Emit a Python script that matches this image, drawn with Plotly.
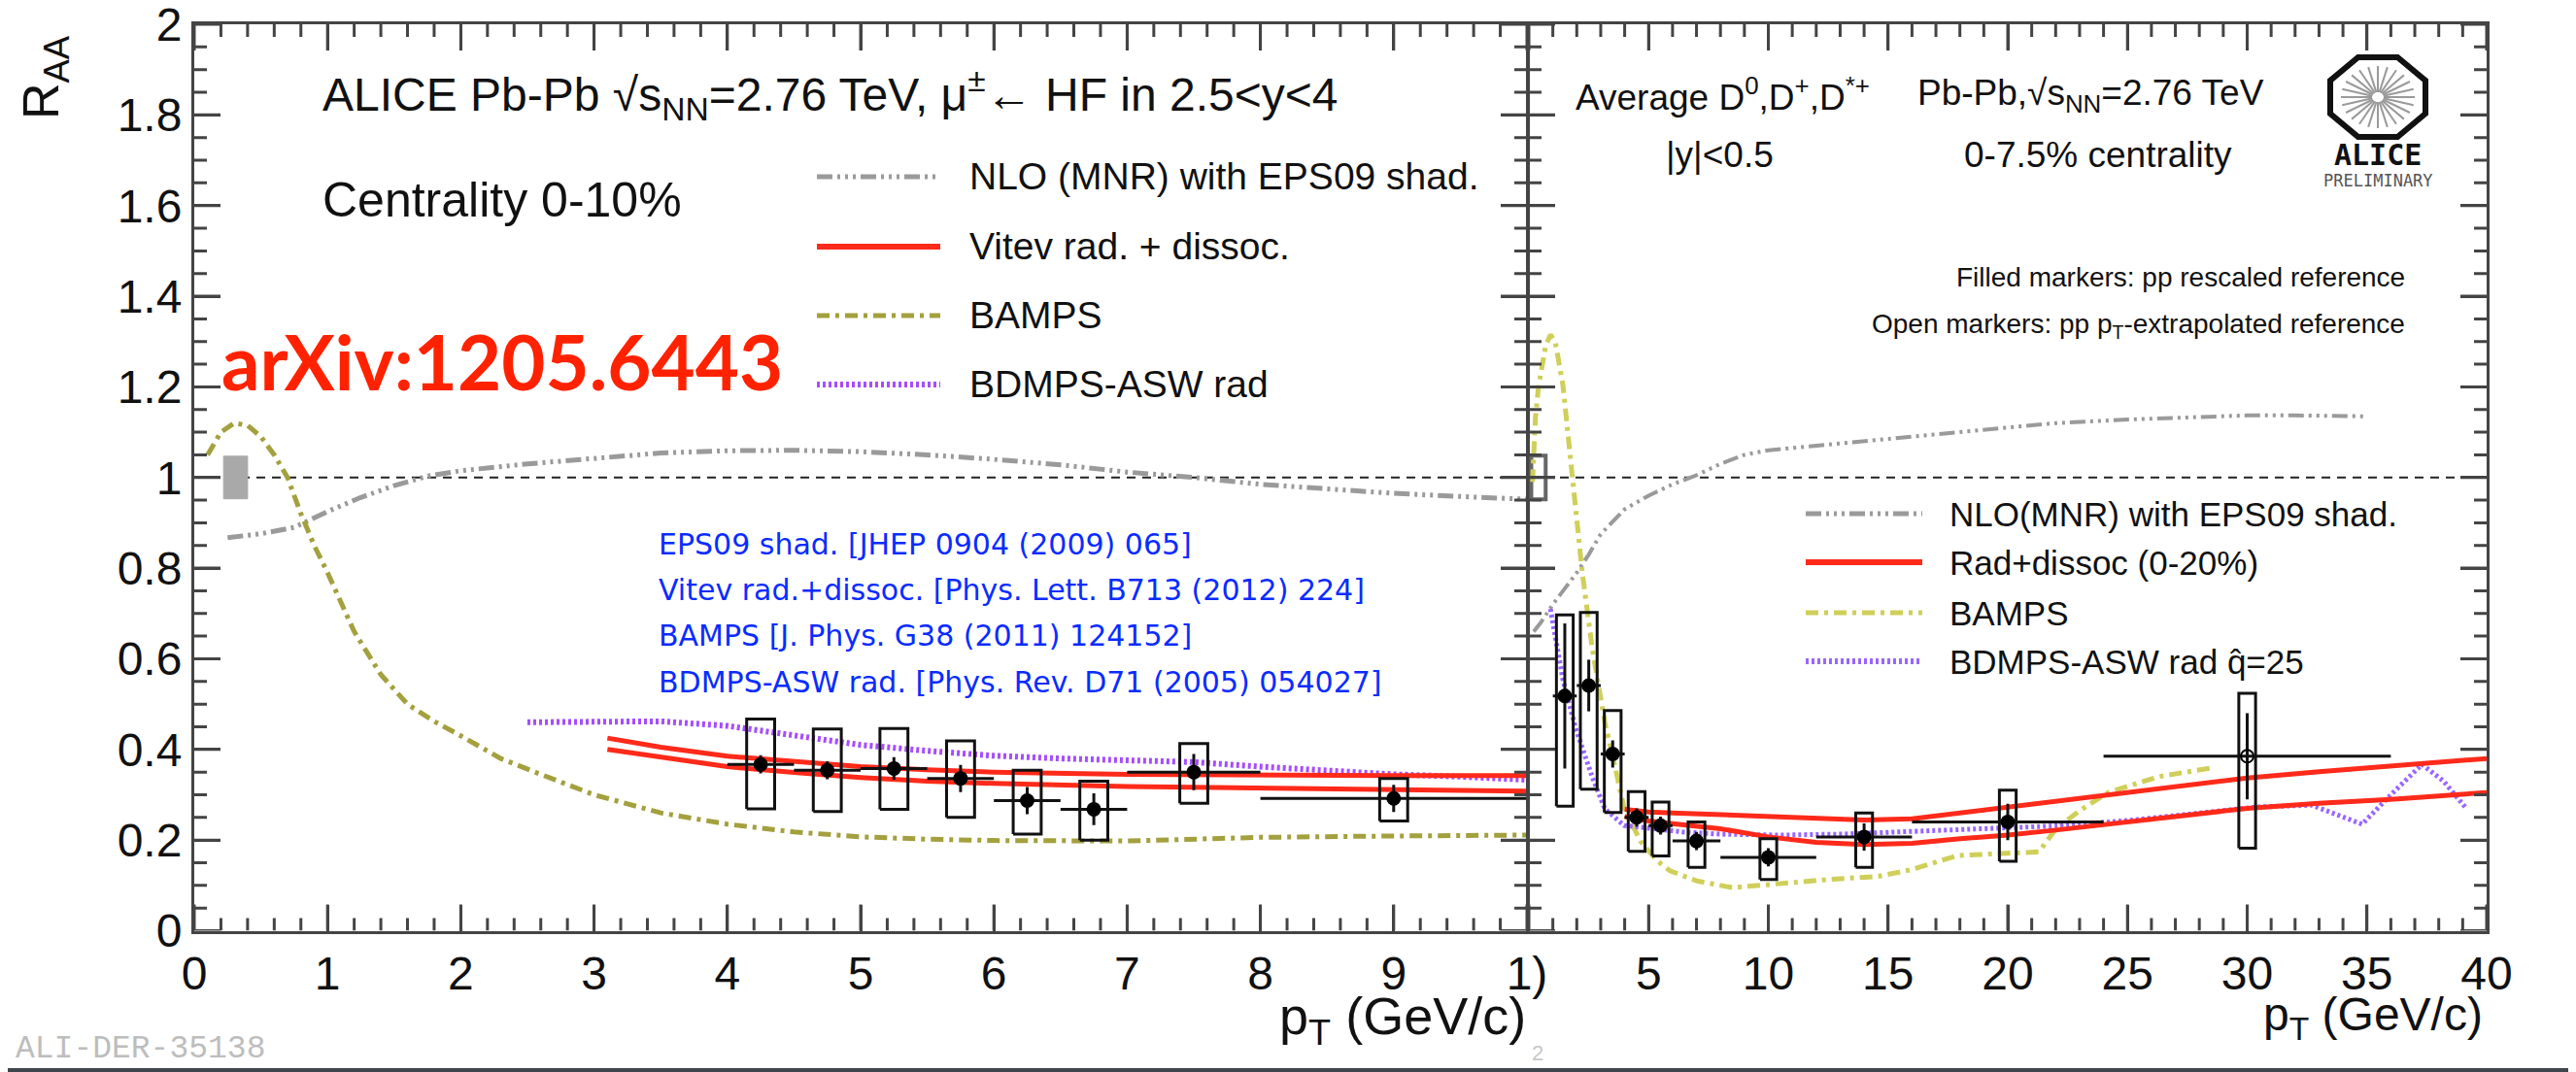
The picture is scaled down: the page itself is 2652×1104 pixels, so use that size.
import plotly.graph_objects as go
import math

# page is 2652x1104; the browser body adds an 8px margin, so the figure is 8px smaller
PAGE_W, PAGE_H = 2652, 1104
OFF = 8
W, H = PAGE_W - OFF, PAGE_H - OFF

# ---------------- Left panel: muons from HF, 2.5<y<4, 0-10% ----------------
mu_pt = [4.25, 4.75, 5.25, 5.75, 6.25, 6.75, 7.5, 9.0]
mu_dx = [0.25, 0.25, 0.25, 0.25, 0.25, 0.25, 0.5, 1.0]
mu_raa = [0.367, 0.354, 0.358, 0.336, 0.287, 0.268, 0.350, 0.292]
mu_stat = [0.02, 0.02, 0.025, 0.03, 0.03, 0.035, 0.04, 0.03]
mu_sys_lo = [0.269, 0.263, 0.268, 0.250, 0.213, 0.200, 0.281, 0.242]
mu_sys_hi = [0.467, 0.445, 0.446, 0.419, 0.354, 0.330, 0.413, 0.336]
mu_norm_pt = [0.22, 0.40]
mu_norm_band = [0.953, 1.047]

nlo_mu_pt = [0.25, 0.5, 0.75, 1.0, 1.25, 1.5, 1.75, 2.0, 2.5, 3.0, 3.5, 4.0, 4.5, 5.0,
             5.5, 6.0, 6.5, 7.0, 7.5, 8.0, 8.5, 9.0, 9.5, 10.0]
nlo_mu = [0.867, 0.876, 0.89, 0.925, 0.956, 0.982, 1.003, 1.015, 1.03, 1.043, 1.054, 1.059,
          1.06, 1.057, 1.05, 1.04, 1.028, 1.012, 1.0, 0.985, 0.975, 0.965, 0.958, 0.952]

bamps_mu_pt = [0.1, 0.2, 0.3, 0.4, 0.5, 0.6, 0.7, 0.8, 0.9, 1.0, 1.2, 1.4, 1.6, 1.8, 2.0,
               2.3, 2.6, 3.0, 3.5, 4.0, 4.5, 5.0, 5.5, 6.0, 7.0, 8.0, 9.0, 10.0]
bamps_mu = [1.05, 1.1, 1.12, 1.115, 1.09, 1.05, 1.0, 0.92, 0.85, 0.79, 0.66, 0.565, 0.50,
            0.462, 0.43, 0.38, 0.345, 0.30, 0.26, 0.235, 0.218, 0.207, 0.202, 0.199, 0.198,
            0.206, 0.209, 0.211]

bdmps_mu_pt = [2.5, 3.0, 3.5, 4.0, 4.5, 5.0, 5.5, 6.0, 6.5, 7.0, 7.5, 8.0, 8.5, 9.0, 9.5, 10.0]
bdmps_mu = [0.46, 0.462, 0.462, 0.452, 0.432, 0.41, 0.397, 0.386, 0.38, 0.376, 0.372, 0.362,
            0.352, 0.345, 0.34, 0.333]

vitev_mu_pt = [3.1, 3.5, 4.0, 4.5, 5.0, 5.5, 6.0, 7.0, 8.0, 9.0, 10.0]
vitev_mu_hi = [0.425, 0.405, 0.385, 0.373, 0.362, 0.355, 0.35, 0.345, 0.343, 0.342, 0.342]
vitev_mu_lo = [0.40, 0.382, 0.362, 0.349, 0.338, 0.33, 0.325, 0.318, 0.314, 0.311, 0.308]

# ---------------- Right panel: average D mesons, |y|<0.5, 0-7.5% ----------------
d_pt = [1.5, 2.5, 3.5, 4.5, 5.5, 7.0, 10.0, 14.0, 20.0]
d_dx = [0.5, 0.5, 0.5, 0.5, 0.5, 1.0, 2.0, 2.0, 4.0]
d_raa = [0.518, 0.541, 0.39, 0.25, 0.232, 0.198, 0.162, 0.207, 0.24]
d_stat = [0.16, 0.057, 0.03, 0.02, 0.02, 0.02, 0.02, 0.03, 0.04]
d_sys_lo = [0.275, 0.312, 0.261, 0.175, 0.165, 0.14, 0.113, 0.14, 0.153]
d_sys_hi = [0.697, 0.702, 0.486, 0.307, 0.284, 0.24, 0.203, 0.26, 0.31]

dopen_pt = [30.0]
dopen_dx = [6.0]
dopen_raa = [0.385]
dopen_stat = [0.095]
dopen_sys_lo = [0.182]
dopen_sys_hi = [0.524]
d_norm_pt = [0.1, 0.7]
d_norm_band = [0.952, 1.048]

nlo_d_pt = [0.2, 0.5, 1.0, 1.5, 2.0, 2.5, 3.0, 4.0, 5.0, 6.0, 7.0, 8.0, 9.0, 10.0, 12.0,
            14.0, 16.0, 18.0, 20.0, 22.0, 25.0, 28.0, 30.0, 32.0, 35.0]
nlo_d = [0.66, 0.68, 0.72, 0.755, 0.79, 0.83, 0.875, 0.93, 0.96, 0.985, 1.005, 1.03, 1.05,
         1.06, 1.07, 1.08, 1.09, 1.10, 1.11, 1.12, 1.128, 1.134, 1.137, 1.137, 1.135]

bamps_d_pt = [0.15, 0.27, 0.4, 0.54, 0.7, 0.9, 1.1, 1.42, 1.83, 2.23, 2.64, 2.92, 3.17, 3.57,
              3.98, 4.67, 5.36, 5.9, 7.0, 8.5, 10.0, 11.1, 12.5, 14.6, 16.0, 17.9, 20.0, 21.3,
              22.0, 23.0, 24.2, 26.3, 28.6]
bamps_d = [0.99, 1.13, 1.2, 1.25, 1.29, 1.315, 1.30, 1.204, 1.0, 0.79, 0.625, 0.532, 0.46,
           0.368, 0.269, 0.197, 0.154, 0.132, 0.11, 0.095, 0.102, 0.108, 0.113, 0.12, 0.135,
           0.166, 0.172, 0.174, 0.224, 0.265, 0.305, 0.34, 0.36]

bdmps_d_pt = [0.9, 1.42, 1.95, 2.64, 3.17, 3.98, 5.08, 6.4, 8.0, 10.5, 13.0, 16.2, 19.0,
              21.9, 25.0, 27.5, 30.4, 32.7, 33.8, 34.8, 36.0, 37.3, 38.2, 39.1]
bdmps_d = [0.71, 0.554, 0.447, 0.34, 0.269, 0.232, 0.226, 0.218, 0.213, 0.211, 0.213, 0.22,
           0.225, 0.231, 0.243, 0.256, 0.273, 0.277, 0.255, 0.235, 0.3, 0.367, 0.33, 0.273]

rad_d_pt = [4.0, 5.0, 6.0, 7.0, 8.0, 10.0, 12.0, 14.0, 16.0, 18.0, 20.0, 22.0, 25.0, 28.0,
            30.0, 33.0, 36.0, 40.0]
rad_d_hi = [0.268, 0.262, 0.26, 0.258, 0.256, 0.251, 0.247, 0.244, 0.247, 0.26, 0.273, 0.287,
            0.307, 0.326, 0.337, 0.351, 0.364, 0.38]
rad_d_lo = [0.252, 0.242, 0.236, 0.231, 0.225, 0.207, 0.195, 0.19, 0.193, 0.203, 0.211, 0.222,
            0.24, 0.258, 0.27, 0.281, 0.29, 0.305]

# tick labels / tick positions
mu_xticks = [0, 1, 2, 3, 4, 5, 6, 7, 8, 9, 10]
mu_xticktext = ["0", "1", "2", "3", "4", "5", "6", "7", "8", "9", "1)"]
d_xticks = [5, 10, 15, 20, 25, 30, 35, 40]
d_xticktext = ["5", "10", "15", "20", "25", "30", "35", "40"]
y_ticks = [0, 0.2, 0.4, 0.6, 0.8, 1, 1.2, 1.4, 1.6, 1.8, 2]
y_ticktext = ["0", "0.2", "0.4", "0.6", "0.8", "1", "1.2", "1.4", "1.6", "1.8", "2"]
mu_xminor_step = 0.2
d_xminor_step = 1.0
y_minor_step = 0.05

# ---------------- styles ----------------
C_NLO = "#9a9a9a"
C_RED = "#ff2a1a"
C_BAMPS_L = "#a3a03e"
C_BAMPS_R = "#cfcf5a"
C_VIO = "#a64dff"
C_VIO_R = "#9966ff"
DASH_NLO = "16px,5px,3px,5px,3px,5px,3px,5px"
DASH_BAMPS = "13px,6px,4px,6px"
DASH_DOT = "3px,3px"
FONT = "Liberation Sans"
TK = "#444444"
BG_DARK = "#40444c"

# panel geometry (page pixels)
L0, L1 = 200, 1572
R0, R1 = 1574, 2560
T, B = 25, 958.5
MAJ, MIN = 27, 13


def px(x):
    return (x - OFF) / W


def py(y):
    return 1 - (y - OFF) / H


def boxes(xs, lo, hi, hw):
    bx, by = [], []
    for x, a, b in zip(xs, lo, hi):
        bx += [x - hw, x + hw, x + hw, x - hw, x - hw, None]
        by += [a, a, b, b, a, None]
    return bx, by


fig = go.Figure()


def line(x, y, color, width, dash, xa="x", ya="y"):
    fig.add_trace(go.Scatter(x=x, y=y, mode="lines", xaxis=xa, yaxis=ya,
                             line=dict(color=color, width=width, dash=dash),
                             showlegend=False, hoverinfo="skip"))


def frange(a, b, s):
    out, k = [], 0
    while a + k * s <= b + 1e-9:
        out.append(round(a + k * s, 6))
        k += 1
    return out


shapes = []


def add_ticks(xa, ya, xmax, xmajor, xminor_step, xpix):
    """ROOT-style inside tick marks on all four sides, drawn as data-referenced path shapes"""
    ymax = 2.0
    xu = xmax / xpix
    yu = ymax / (B - T)
    for vals_x, vals_y, ln, wd in [
        (xmajor, y_ticks, MAJ, 3),
        ([v for v in frange(0, xmax, xminor_step) if all(abs(v - m) > 1e-6 for m in xmajor)],
         [v for v in frange(0, ymax, y_minor_step) if all(abs(v - m) > 1e-6 for m in y_ticks)],
         MIN, 3),
    ]:
        p = []
        for v in vals_x:
            p.append(f"M{v:.5f},0L{v:.5f},{ln * yu:.5f}")
            p.append(f"M{v:.5f},{ymax:.5f}L{v:.5f},{ymax - ln * yu:.5f}")
        for v in vals_y:
            p.append(f"M0,{v:.5f}L{ln * xu:.5f},{v:.5f}")
            p.append(f"M{xmax:.5f},{v:.5f}L{xmax - ln * xu:.5f},{v:.5f}")
        shapes.append(dict(type="path", xref=xa, yref=ya, path="".join(p), layer="above",
                           line=dict(color=TK, width=wd)))


# ---- left panel ----
line([0, 10], [1, 1], "#222222", 2, "9px,7px")
fig.add_trace(go.Scatter(x=[mu_norm_pt[0], mu_norm_pt[1], mu_norm_pt[1], mu_norm_pt[0], mu_norm_pt[0]],
                         y=[mu_norm_band[0], mu_norm_band[0], mu_norm_band[1], mu_norm_band[1], mu_norm_band[0]],
                         mode="lines", fill="toself", fillcolor="#a9a9a9",
                         line=dict(color="#a9a9a9", width=1), showlegend=False, hoverinfo="skip"))
line(nlo_mu_pt, nlo_mu, C_NLO, 5, DASH_NLO)
line(bamps_mu_pt, bamps_mu, C_BAMPS_L, 5, DASH_BAMPS)
line(bdmps_mu_pt, bdmps_mu, C_VIO, 6, DASH_DOT)
line(vitev_mu_pt, vitev_mu_hi, C_RED, 5, "solid")
line(vitev_mu_pt, vitev_mu_lo, C_RED, 5, "solid")
bx, by = boxes(mu_pt, mu_sys_lo, mu_sys_hi, 0.105)
fig.add_trace(go.Scatter(x=bx, y=by, mode="lines", line=dict(color="#111111", width=3),
                         showlegend=False, hoverinfo="skip"))
fig.add_trace(go.Scatter(x=mu_pt, y=mu_raa, mode="markers",
                         marker=dict(symbol="circle", size=15, color="#000000"),
                         error_x=dict(type="data", array=mu_dx, color="#111111", thickness=3, width=0),
                         error_y=dict(type="data", array=mu_stat, color="#111111", thickness=3, width=0),
                         showlegend=False, hoverinfo="skip"))
add_ticks("x", "y", 10.0, mu_xticks, mu_xminor_step, L1 - L0)

# ---- right panel ----
line([0, 40], [1, 1], "#222222", 2, "9px,7px", "x2", "y2")
fig.add_trace(go.Scatter(x=[d_norm_pt[0], d_norm_pt[1], d_norm_pt[1], d_norm_pt[0], d_norm_pt[0]],
                         y=[d_norm_band[0], d_norm_band[0], d_norm_band[1], d_norm_band[1], d_norm_band[0]],
                         xaxis="x2", yaxis="y2", mode="lines",
                         line=dict(color="#666666", width=4), showlegend=False, hoverinfo="skip"))
line(nlo_d_pt, nlo_d, C_NLO, 4, DASH_NLO, "x2", "y2")
line(bamps_d_pt, bamps_d, C_BAMPS_R, 5, DASH_BAMPS, "x2", "y2")
line(bdmps_d_pt, bdmps_d, C_VIO_R, 5, DASH_DOT, "x2", "y2")
line(rad_d_pt, rad_d_hi, C_RED, 5, "solid", "x2", "y2")
line(rad_d_pt, rad_d_lo, C_RED, 5, "solid", "x2", "y2")
bx, by = boxes(d_pt + dopen_pt, d_sys_lo + dopen_sys_lo, d_sys_hi + dopen_sys_hi, 0.35)
fig.add_trace(go.Scatter(x=bx, y=by, xaxis="x2", yaxis="y2", mode="lines",
                         line=dict(color="#111111", width=3), showlegend=False, hoverinfo="skip"))
fig.add_trace(go.Scatter(x=d_pt, y=d_raa, xaxis="x2", yaxis="y2", mode="markers",
                         marker=dict(symbol="circle", size=15, color="#000000"),
                         error_x=dict(type="data", array=d_dx, color="#111111", thickness=3, width=0),
                         error_y=dict(type="data", array=d_stat, color="#111111", thickness=3, width=0),
                         showlegend=False, hoverinfo="skip"))
fig.add_trace(go.Scatter(x=dopen_pt, y=dopen_raa, xaxis="x2", yaxis="y2", mode="markers",
                         marker=dict(symbol="circle-open", size=13, color="#000000", line=dict(width=2)),
                         error_x=dict(type="data", array=dopen_dx, color="#111111", thickness=3, width=0),
                         error_y=dict(type="data", array=dopen_stat, color="#111111", thickness=3, width=0),
                         showlegend=False, hoverinfo="skip"))
add_ticks("x2", "y2", 40.0, [0] + d_xticks, d_xminor_step, R1 - R0)

# ---------------- axes ----------------
tf = dict(family=FONT, size=48, color="#111111")
axc = dict(showgrid=False, zeroline=False, showline=True, linecolor=TK, linewidth=3,
           mirror="ticks", ticks="inside", ticklen=MAJ, tickwidth=3, tickcolor=TK, tickfont=tf)

fig.update_layout(
    width=W, height=H, margin=dict(l=0, r=0, t=0, b=0, autoexpand=False), autosize=False,
    paper_bgcolor="white", plot_bgcolor="white",
    xaxis=dict(domain=[px(L0), px(L1)], range=[0, 10], anchor="y",
               tickmode="array", tickvals=mu_xticks, ticktext=mu_xticktext, **axc),
    yaxis=dict(domain=[py(B), py(T)], range=[0, 2], anchor="x",
               tickmode="array", tickvals=y_ticks, ticktext=y_ticktext,
               ticklabeloverflow="allow", **axc),
    xaxis2=dict(domain=[px(R0), px(R1)], range=[0, 40], anchor="y2",
                tickmode="array", tickvals=d_xticks, ticktext=d_xticktext, **axc),
    yaxis2=dict(domain=[py(B), py(T)], range=[0, 2], anchor="x2",
                tickmode="array", tickvals=y_ticks, showticklabels=False, **axc),
)

shapes.append(dict(type="rect", xref="paper", yref="paper", x0=0, x1=1, y0=0, y1=py(1100),
                   fillcolor=BG_DARK, line=dict(width=0), layer="above"))


def seg(x0, x1, y, color, width, dash):
    shapes.append(dict(type="line", xref="paper", yref="paper", x0=px(x0), x1=px(x1),
                       y0=py(y), y1=py(y), line=dict(color=color, width=width, dash=dash)))


# left legend samples
seg(841, 968, 182, C_NLO, 5, DASH_NLO)
seg(841, 968, 254, C_RED, 6, "solid")
seg(841, 968, 325, C_BAMPS_L, 5, DASH_BAMPS)
seg(841, 968, 396, C_VIO, 6, DASH_DOT)
# right legend samples
seg(1859, 1979, 529, C_NLO, 5, DASH_NLO)
seg(1859, 1979, 579, C_RED, 6, "solid")
seg(1859, 1979, 631, C_BAMPS_R, 5, DASH_BAMPS)
seg(1859, 1979, 681, C_VIO_R, 6, DASH_DOT)

# ALICE logo: octagon + spokes
cx, cy, rx, ry = 2448, 100, 49, 41
pts = []
for k in range(8):
    a = math.radians(22.5 + 45 * k)
    pts.append((cx + rx * math.cos(a) / math.cos(math.radians(22.5)),
                cy + ry * math.sin(a) / math.cos(math.radians(22.5))))
path = "M " + " L ".join(f"{px(x):.5f},{py(y):.5f}" for x, y in pts) + " Z"
shapes.append(dict(type="path", xref="paper", yref="paper", path=path,
                   line=dict(color="#111111", width=6)))
for k in range(24):
    a = math.radians(15 * k)
    shapes.append(dict(type="line", xref="paper", yref="paper",
                       x0=px(cx + 6 * math.cos(a)), y0=py(cy + 5 * math.sin(a)),
                       x1=px(cx + 38 * math.cos(a)), y1=py(cy + 32 * math.sin(a)),
                       line=dict(color="#9a9a9a", width=2)))
fig.update_layout(shapes=shapes)

ann = []


def text(x, y, s, size, color="#111111", xanchor="left", family=FONT, angle=0):
    ann.append(dict(x=px(x), y=py(y), xref="paper", yref="paper", text=s, showarrow=False,
                    xanchor=xanchor, yanchor="middle", textangle=angle,
                    font=dict(family=family, size=size, color=color)))


text(46, 80, "R<sub>AA</sub>", 52, angle=-90, xanchor="center")
text(1573, 1050, "p<sub>T</sub> (GeV/c)", 54, xanchor="right")
text(2558, 1048, "p<sub>T</sub> (GeV/c)", 48, xanchor="right")
text(330, 98, "ALICE Pb-Pb √s<sub>NN</sub>=2.76 TeV, μ<sup>±</sup>← HF in 2.5&lt;y&lt;4", 48)
text(330, 206, "Centrality 0-10%", 50)
text(996, 182, "NLO (MNR) with EPS09 shad.", 39)
text(996, 254, "Vitev rad. + dissoc.", 39)
text(996, 325, "BAMPS", 39)
text(996, 396, "BDMPS-ASW rad", 39)
text(226, 372, "<b>arXiv:1205.6443</b>", 78, color="#ff2200", family="Lato")
blue = "#0a2cff"
text(676, 560, "EPS09 shad. [JHEP 0904 (2009) 065]", 30, color=blue, family="DejaVu Sans")
text(676, 607, "Vitev rad.+dissoc. [Phys. Lett. B713 (2012) 224]", 30, color=blue, family="DejaVu Sans")
text(676, 654, "BAMPS [J. Phys. G38 (2011) 124152]", 30, color=blue, family="DejaVu Sans")
text(676, 702, "BDMPS-ASW rad. [Phys. Rev. D71 (2005) 054027]", 30, color=blue, family="DejaVu Sans")
text(14, 1080, "ALI-DER-35138", 33, color="#bdbdbd", family="Liberation Mono")
text(1583, 1084, "2", 22, color="#c8c8c8", xanchor="center")

text(1620, 98, "Average D<sup>0</sup>,D<sup>+</sup>,D<sup>*+</sup>", 37)
text(1972, 98, "Pb-Pb,√s<sub>NN</sub>=2.76 TeV", 37)
text(1770, 159, "|y|&lt;0.5", 37, xanchor="center")
text(2160, 159, "0-7.5% centrality", 37, xanchor="center")
text(2448, 160, "<b>ALICE</b>", 30, family="DejaVu Sans Mono", xanchor="center")
text(2448, 186, "PRELIMINARY", 17, color="#555555", family="DejaVu Sans Mono", xanchor="center")
text(2478, 286, "Filled markers: pp rescaled reference", 28, xanchor="right")
text(2478, 336, "Open markers: pp p<sub>T</sub>-extrapolated reference", 28, xanchor="right")
text(2005, 529, "NLO(MNR) with EPS09 shad.", 35)
text(2005, 579, "Rad+dissoc (0-20%)", 35)
text(2005, 631, "BAMPS", 35)
text(2005, 681, "BDMPS-ASW rad q&#770;=25", 35)
fig.update_layout(annotations=ann)

fig.write_html("out.html")
